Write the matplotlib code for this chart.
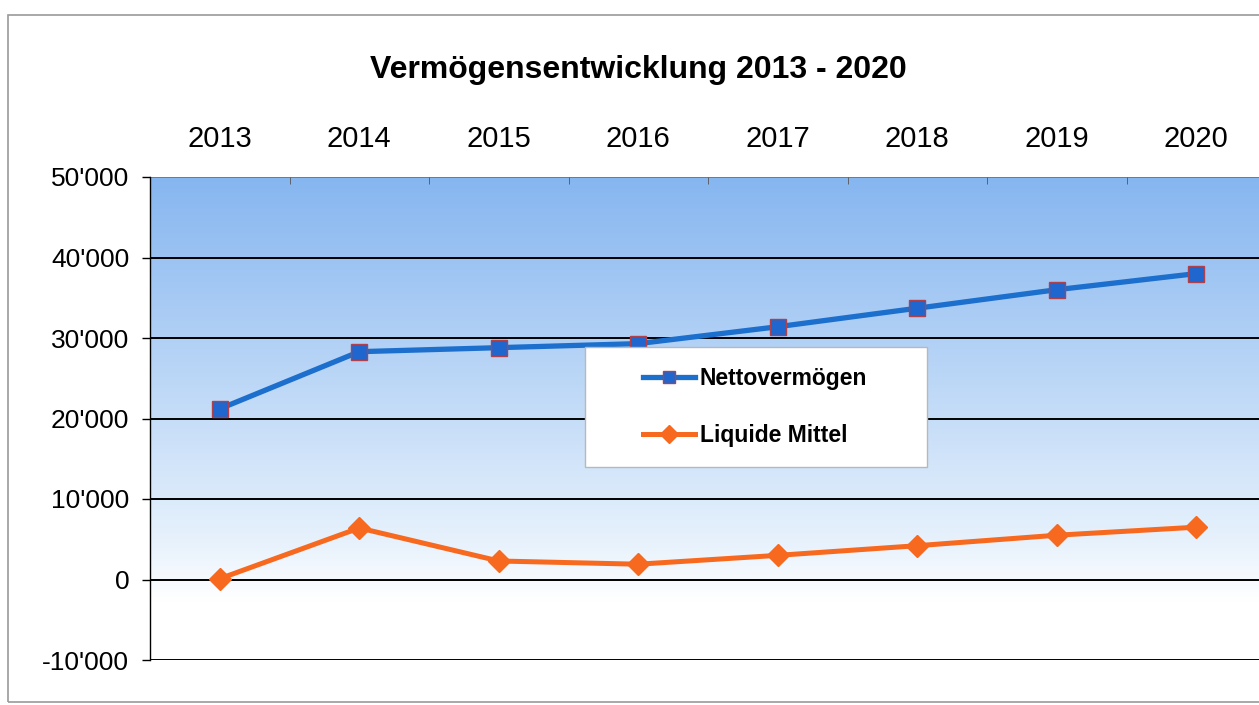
import numpy as np
import matplotlib.pyplot as plt
from matplotlib.colors import LinearSegmentedColormap
from matplotlib.patches import Rectangle
from matplotlib.ticker import FuncFormatter, FixedLocator

YEARS = ["2013", "2014", "2015", "2016", "2017", "2018", "2019", "2020"]
NETTOVERMOEGEN = [21200, 28300, 28800, 29300, 31400, 33700, 36000, 38000]
LIQUIDE_MITTEL = [100, 6400, 2300, 1900, 3000, 4200, 5500, 6500]

Y_TICKS = [-10000, 0, 10000, 20000, 30000, 40000, 50000]

plt.rcParams["font.family"] = ["Liberation Sans", "DejaVu Sans"]


def swiss_fmt(v, pos=None):
    v = int(round(v))
    s = f"{abs(v):,}".replace(",", "'")
    return ("-" if v < 0 else "") + s


def main():
    fig = plt.figure(figsize=(12.59, 7.05), dpi=100)
    fig.patch.set_facecolor("white")

    # outer frame of the scanned chart
    fig.patches.append(Rectangle(
        (8 / 1259, 3 / 705), 1.2, 1 - 18 / 705,
        transform=fig.transFigure, fill=False,
        edgecolor="#9a9a9a", linewidth=1.2,
    ))

    ax = fig.add_axes([150 / 1259, 1 - 660 / 705, 1116 / 1259, 483 / 705])
    ax.set_xlim(-0.5, len(YEARS) - 0.5)
    ax.set_ylim(Y_TICKS[0], Y_TICKS[-1])

    # blue -> white gradient background
    cmap = LinearSegmentedColormap.from_list(
        "bg", [(0.0, "#ffffff"), (0.12, "#ffffff"), (0.25, "#e6f1fc"),
               (1.0, "#86b6f0")]
    )
    grad = np.linspace(0, 1, 256).reshape(-1, 1)
    ax.imshow(grad, aspect="auto", cmap=cmap, origin="lower",
              extent=(-0.5, len(YEARS) - 0.5, Y_TICKS[0], Y_TICKS[-1]),
              zorder=0)

    for y in Y_TICKS[:-1]:
        ax.axhline(y, color="black", linewidth=1.4, zorder=1)
    ax.axhline(Y_TICKS[-1], color="#6f6f6f", linewidth=1.2, zorder=1)

    x = np.arange(len(YEARS))
    ax.plot(x, NETTOVERMOEGEN, color="#1c6fcc", linewidth=3.8,
            marker="s", markersize=11, markerfacecolor="#1f66cf",
            markeredgecolor="#b0404a", markeredgewidth=1.0,
            label="Nettovermögen", zorder=3)
    ax.plot(x, LIQUIDE_MITTEL, color="#f7691e", linewidth=3.6,
            marker="D", markersize=11, markerfacecolor="#f7691e",
            markeredgecolor="#f7691e",
            label="Liquide Mittel", zorder=3)

    # x axis on top, year labels
    ax.xaxis.tick_top()
    ax.set_xticks(x)
    ax.set_xticklabels(YEARS, fontsize=21)
    ax.xaxis.set_minor_locator(FixedLocator(np.arange(0.5, len(YEARS) - 0.5, 1)))
    ax.tick_params(axis="x", which="major", length=0, pad=17)
    ax.tick_params(axis="x", which="minor", direction="in", length=5,
                   color="#555555", top=True, bottom=False)

    ax.set_yticks(Y_TICKS)
    ax.yaxis.set_major_formatter(FuncFormatter(swiss_fmt))
    ax.tick_params(axis="y", labelsize=19, length=6, pad=9, width=1)

    for side in ["top", "right", "bottom"]:
        ax.spines[side].set_visible(False)
    ax.spines["left"].set_color("black")
    ax.spines["left"].set_linewidth(1.0)

    fig.text(638 / 1259, 1 - 70 / 705, "Vermögensentwicklung 2013 - 2020",
             ha="center", va="center", fontsize=23, fontweight="bold")

    # legend box
    fig.patches.append(Rectangle(
        (585 / 1259, 1 - 467 / 705), 342 / 1259, 120 / 705,
        transform=fig.transFigure, facecolor="white",
        edgecolor="#b8b8b8", linewidth=1.0, zorder=5,
    ))
    leg = fig.legend(
        loc="center left", bbox_to_anchor=(622 / 1259, 1 - 407 / 705),
        frameon=False, prop={"weight": "bold", "size": 16.5},
        handlelength=2.3, handletextpad=0.2, labelspacing=1.5,
        markerscale=0.8,
    )
    leg.set_zorder(6)

    fig.savefig("out.png", dpi=100)
    plt.close(fig)


if __name__ == "__main__":
    main()
